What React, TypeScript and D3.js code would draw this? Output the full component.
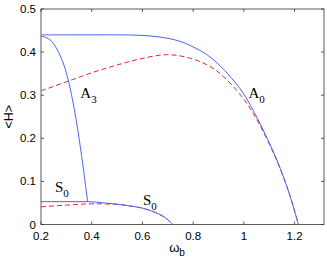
import React, { useEffect, useRef } from 'react';
import * as d3 from 'd3';

// blue solid branches
const a0X = [0.2, 0.3, 0.4, 0.5, 0.59, 0.668, 0.748, 0.826, 0.866, 0.905, 0.945, 0.997, 1.056, 1.13, 1.18, 1.215];
const a0Y = [0.44, 0.44, 0.44, 0.44, 0.439, 0.435, 0.425, 0.404, 0.389, 0.369, 0.344, 0.305, 0.243, 0.15, 0.07, 0];
const a3X = [0.2, 0.22, 0.24, 0.26, 0.28, 0.3, 0.32, 0.34, 0.36, 0.384];
const a3Y = [0.437, 0.434, 0.426, 0.41, 0.386, 0.352, 0.302, 0.238, 0.16, 0.052];
const s0X = [0.2, 0.3, 0.384, 0.45, 0.5, 0.55, 0.6, 0.65, 0.68, 0.7, 0.72];
const s0Y = [0.053, 0.053, 0.053, 0.05, 0.047, 0.043, 0.038, 0.028, 0.02, 0.011, 0];
// red dashed
const rAX = [0.2, 0.3, 0.4, 0.5, 0.59, 0.695, 0.787, 0.866, 0.918, 0.997, 1.056, 1.13, 1.18, 1.215];
const rAY = [0.31, 0.331, 0.352, 0.37, 0.384, 0.394, 0.386, 0.367, 0.344, 0.293, 0.238, 0.148, 0.07, 0];
const rSX = [0.2, 0.3, 0.4, 0.5, 0.55, 0.6, 0.65, 0.7, 0.72];
const rSY = [0.041, 0.045, 0.048, 0.047, 0.043, 0.038, 0.028, 0.011, 0];

const xTicks = [0.2, 0.4, 0.6, 0.8, 1, 1.2];
const yTicks = [0, 0.1, 0.2, 0.3, 0.4, 0.5];

const labels = [
  { t: 'A', s: '3', x: 0.355, y: 0.294 },
  { t: 'A', s: '0', x: 1.018, y: 0.294 },
  { t: 'S', s: '0', x: 0.255, y: 0.076 },
  { t: 'S', s: '0', x: 0.602, y: 0.045 },
];

export default function App() {
  const ref = useRef<SVGSVGElement>(null);

  useEffect(() => {
    const svg = d3.select(ref.current);
    svg.selectAll('*').remove();

    const left = 41, right = 324, top = 9, bottom = 224.5;
    const x = d3.scaleLinear().domain([0.2, 1.316]).range([left, right]);
    const y = d3.scaleLinear().domain([0, 0.5]).range([bottom, top]);

    const g = svg.append('g');
    g.append('rect')
      .attr('x', left).attr('y', top)
      .attr('width', right - left).attr('height', bottom - top)
      .attr('fill', 'white').attr('stroke', '#333').attr('stroke-width', 0.8);

    const tl = 3;
    xTicks.forEach(t => {
      g.append('line').attr('x1', x(t)).attr('x2', x(t)).attr('y1', bottom).attr('y2', bottom - tl).attr('stroke', '#333').attr('stroke-width', 0.8);
      g.append('line').attr('x1', x(t)).attr('x2', x(t)).attr('y1', top).attr('y2', top + tl).attr('stroke', '#333').attr('stroke-width', 0.8);
      g.append('text').attr('x', x(t)).attr('y', bottom + 15).attr('text-anchor', 'middle')
        .attr('font-family', 'Liberation Sans, Arial, sans-serif').attr('font-size', 11.5).text(String(t));
    });
    yTicks.forEach(t => {
      g.append('line').attr('x1', left).attr('x2', left + tl).attr('y1', y(t)).attr('y2', y(t)).attr('stroke', '#333').attr('stroke-width', 0.8);
      g.append('line').attr('x1', right).attr('x2', right - tl).attr('y1', y(t)).attr('y2', y(t)).attr('stroke', '#333').attr('stroke-width', 0.8);
      g.append('text').attr('x', left - 5).attr('y', y(t) + 4).attr('text-anchor', 'end')
        .attr('font-family', 'Liberation Sans, Arial, sans-serif').attr('font-size', 11.5).text(String(t));
    });

    const line = d3.line<[number, number]>().x(d => x(d[0])).y(d => y(d[1])).curve(d3.curveMonotoneX);
    const smooth = d3.line<[number, number]>().x(d => x(d[0])).y(d => y(d[1])).curve(d3.curveCatmullRom);
    const zip = (a: number[], b: number[]) => a.map((v, i) => [v, b[i]] as [number, number]);

    const blue = '#4a64f5';
    const red = '#f0242a';
    g.append('path').attr('d', smooth(zip(rAX, rAY))).attr('fill', 'none').attr('stroke', red).attr('stroke-width', 1).attr('stroke-dasharray', '5,3');
    g.append('path').attr('d', line(zip(rSX, rSY))).attr('fill', 'none').attr('stroke', red).attr('stroke-width', 1).attr('stroke-dasharray', '5,3');
    g.append('path').attr('d', smooth(zip(a0X, a0Y))).attr('fill', 'none').attr('stroke', blue).attr('stroke-width', 1);
    g.append('path').attr('d', smooth(zip(a3X, a3Y))).attr('fill', 'none').attr('stroke', blue).attr('stroke-width', 1);
    g.append('path').attr('d', line(zip(s0X, s0Y))).attr('fill', 'none').attr('stroke', blue).attr('stroke-width', 1);

    labels.forEach(l => {
      const t = g.append('text').attr('x', x(l.x)).attr('y', y(l.y))
        .attr('font-family', 'Liberation Serif, Times New Roman, serif').attr('font-size', 15);
      t.append('tspan').text(l.t);
      t.append('tspan').attr('dy', 5).attr('font-size', 11).text(l.s);
    });

    const xl = g.append('text').attr('x', 177).attr('y', 252).attr('text-anchor', 'middle')
      .attr('font-family', 'Liberation Sans, Arial, sans-serif').attr('font-size', 13);
    xl.append('tspan').text('ω');
    xl.append('tspan').attr('dy', 4).attr('font-size', 10).text('b');

    g.append('text').attr('transform', `translate(13,${(top + bottom) / 2}) rotate(-90)`).attr('text-anchor', 'middle')
      .attr('font-family', 'Liberation Sans, Arial, sans-serif').attr('font-size', 12.5).text('<H>');
  }, []);

  return (
    <svg ref={ref} width={327} height={263} style={{ position: 'absolute', left: 0, top: 0, background: 'white' }} />
  );
}
